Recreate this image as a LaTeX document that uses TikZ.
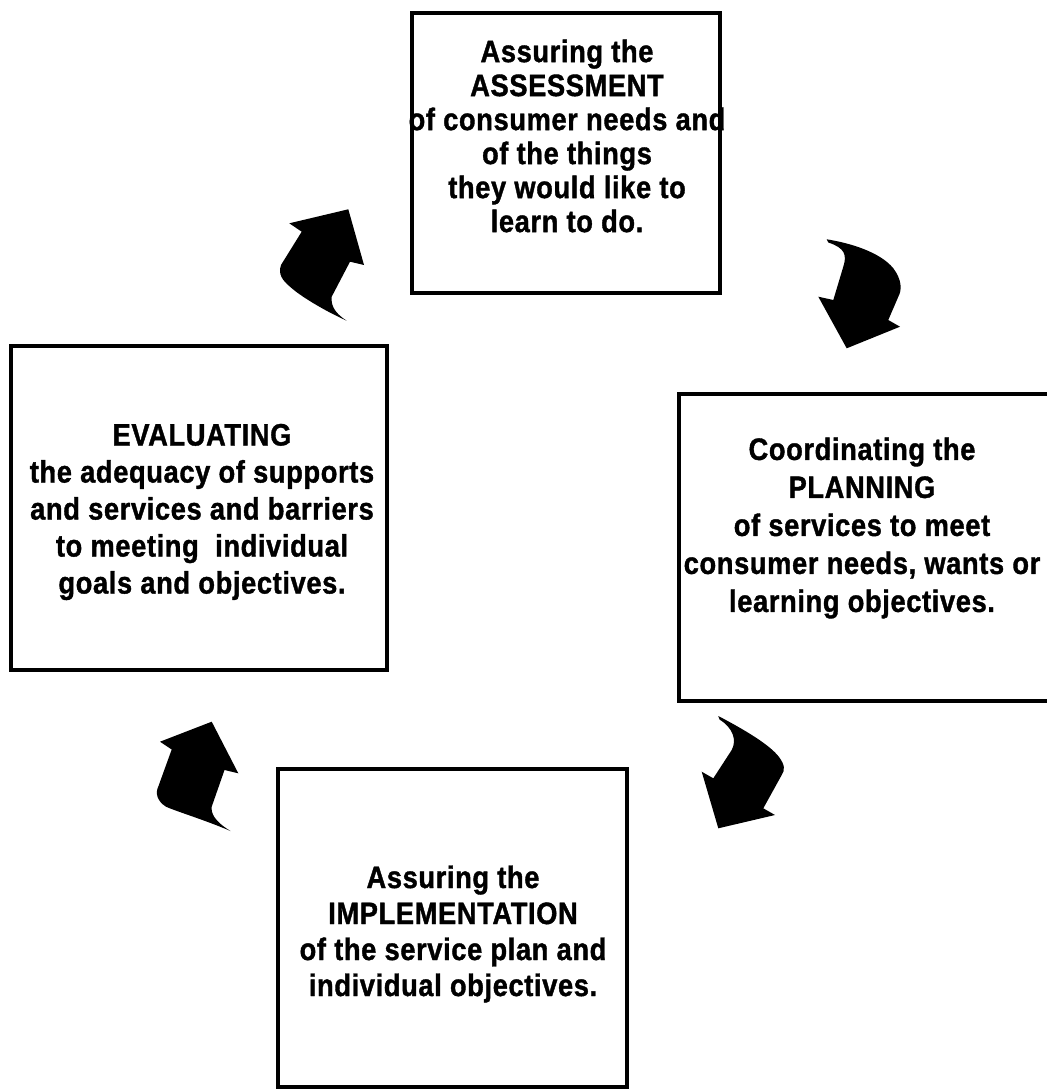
\documentclass[tikz,border=0pt]{standalone}
\usepackage{fontspec}
\newfontfamily\labfont[FakeStretch=0.88,FakeBold=1.2,LetterSpace=2]{Liberation Sans Bold}
\begin{document}
\begin{tikzpicture}[x=0.5pt,y=-0.5pt,
  frame/.style={draw=black, line width=2pt, rectangle, inner sep=0pt, outer sep=0pt, fill=none},
  label/.style={align=center, font=\labfont\fontsize{15.5pt}{#1}\selectfont, inner sep=0pt},
  arrowshape/.style={fill=black, draw=none}]
\useasboundingbox (0,0) rectangle (1047,1091);
% boxes
\node[frame, minimum width=154pt, minimum height=140pt] (assess) at (566,153) {};
\node[frame, minimum width=195.5pt, minimum height=153.5pt] (plan) at (874.5,547.5) {};
\node[frame, minimum width=188pt, minimum height=162pt] (eval) at (199,508) {};
\node[frame, minimum width=174.5pt, minimum height=159pt] (impl) at (452.5,928) {};
% texts
\node[label=17pt] (assesstxt) at (567,136) {Assuring the\\ASSESSMENT\\of consumer needs and\\of the things\\they would like to\\learn to do.};
\node[label=19pt] (plantxt) at (862,528) {Coordinating the\\PLANNING\\of services to meet\\consumer needs, wants or\\learning objectives.};
\node[label=18.5pt] (evaltxt) at (202,512) {EVALUATING\\the adequacy of supports\\and services and barriers\\to meeting\ \ individual\\goals and objectives.};
\node[label=18pt] (impltxt) at (453,934) {Assuring the\\IMPLEMENTATION\\of the service plan and\\individual objectives.};
% arrow: evaluation -> assessment
\fill[arrowshape] (348.3,209.3) -- (364,265) -- (350,261.7) -- (331.7,296.7)
  .. controls (331,304) and (333,312) .. (346.7,320.7)
  .. controls (325,311) and (300,296) .. (290,286.7)
  .. controls (282,280) and (278,274) .. (281,265)
  -- (301.7,231.7) -- (289.3,223.3) -- cycle;
% arrow: assessment -> planning
\fill[arrowshape] (826.7,239.3) .. controls (850,243) and (880,252) .. (893.3,268.3)
  .. controls (902,280) and (902,290) .. (898.3,296.7)
  -- (888.3,320) -- (900,326.7) -- (846.7,348.3) -- (818.3,296.7) -- (833.3,300)
  -- (843.3,266.7) .. controls (847,255) and (845,248) .. (828.3,242.5) -- cycle;
% arrow: planning -> implementation
\fill[arrowshape] (718.3,716) .. controls (745,730) and (770,745) .. (779,757)
  .. controls (785,765) and (785,770) .. (781.7,775)
  -- (763.3,808.3) -- (775,815) -- (718.3,828.3) -- (701.7,771.7) -- (713.3,778.3)
  -- (731.7,750) .. controls (737,740) and (733,728) .. (719.5,719.5) -- cycle;
% arrow: implementation -> evaluation
\fill[arrowshape] (211.7,721.7) -- (238.3,773.3) -- (224.5,770) -- (211.7,806.7)
  .. controls (211,813) and (214,821) .. (230.5,831)
  .. controls (205,820) and (178,812) .. (166,806.7)
  .. controls (157,801) and (155,793) .. (158.5,786)
  -- (171.7,749.5) -- (160,741.7) -- cycle;
\end{tikzpicture}
\end{document}
